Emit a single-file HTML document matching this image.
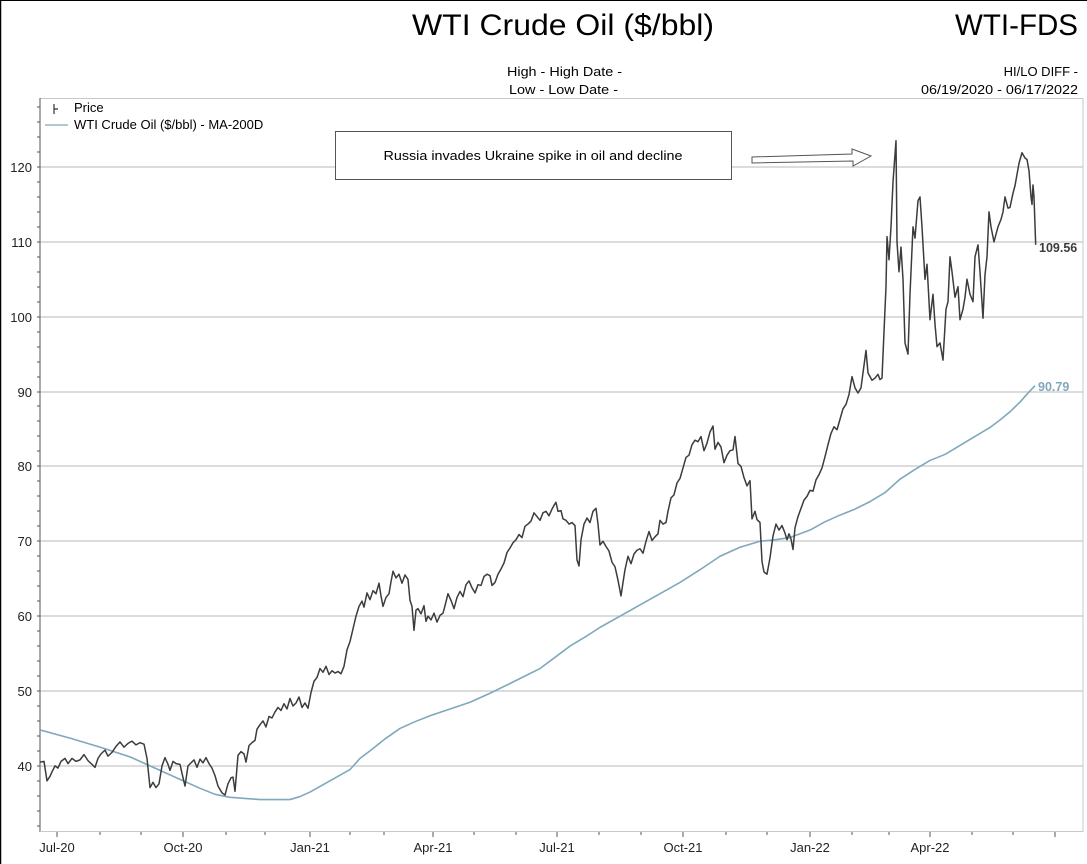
<!DOCTYPE html>
<html><head><meta charset="utf-8"><style>
html,body{margin:0;padding:0;background:#fff;}
svg{display:block;font-family:"Liberation Sans",Arial,sans-serif;}
</style></head><body>
<svg width="1087" height="864" viewBox="0 0 1087 864" xmlns="http://www.w3.org/2000/svg">
<rect width="1087" height="864" fill="#fff"/>
<line x1="0" y1="0.5" x2="1087" y2="0.5" stroke="#000" stroke-width="1"/>
<line x1="0.5" y1="0" x2="0.5" y2="864" stroke="#000" stroke-width="1.5"/>
<text x="563" y="35" font-size="30" text-anchor="middle" textLength="302" lengthAdjust="spacingAndGlyphs">WTI Crude Oil ($/bbl)</text>
<text x="1078" y="35" font-size="30" text-anchor="end" textLength="123" lengthAdjust="spacingAndGlyphs">WTI-FDS</text>
<text x="507" y="76" font-size="13" textLength="115" lengthAdjust="spacingAndGlyphs">High - High Date -</text>
<text x="509" y="94" font-size="13" textLength="109" lengthAdjust="spacingAndGlyphs">Low - Low Date -</text>
<text x="1078" y="76" font-size="13" text-anchor="end">HI/LO DIFF -</text>
<text x="1078" y="94" font-size="13" text-anchor="end" textLength="157" lengthAdjust="spacingAndGlyphs">06/19/2020 - 06/17/2022</text>
<rect x="40" y="98.5" width="1043" height="733" fill="none" stroke="#c8c8c8"/>
<g stroke="#c8c8c8" stroke-width="1.2">
<line x1="40" y1="167" x2="1083" y2="167"/>
<line x1="40" y1="242" x2="1083" y2="242"/>
<line x1="40" y1="317" x2="1083" y2="317"/>
<line x1="40" y1="392" x2="1083" y2="392"/>
<line x1="40" y1="466" x2="1083" y2="466"/>
<line x1="40" y1="541" x2="1083" y2="541"/>
<line x1="40" y1="616" x2="1083" y2="616"/>
<line x1="40" y1="691" x2="1083" y2="691"/>
<line x1="40" y1="766" x2="1083" y2="766"/>
</g>
<line x1="40" y1="98" x2="40" y2="832" stroke="#555" stroke-width="1"/>
<line x1="40" y1="831.5" x2="1083" y2="831.5" stroke="#c8c8c8"/>
<g fill="#222" font-size="13" text-anchor="end">
<text x="32" y="172">120</text><text x="32" y="247">110</text><text x="32" y="322">100</text>
<text x="32" y="397">90</text><text x="32" y="471">80</text><text x="32" y="546">70</text>
<text x="32" y="621">60</text><text x="32" y="696">50</text><text x="32" y="771">40</text>
</g>
<g stroke="#555" stroke-width="1">
<path d="M37 107h3M37 122h3M37 137h3M37 152h3M37 167h3M37 182h3M37 197h3M37 212h3M37 227h3M37 242h3M37 257h3M37 272h3M37 287h3M37 302h3M37 317h3M37 332h3M37 347h3M37 362h3M37 377h3M37 392h3M37 406h3M37 421h3M37 436h3M37 451h3M37 466h3M37 481h3M37 496h3M37 511h3M37 526h3M37 541h3M37 556h3M37 571h3M37 586h3M37 601h3M37 616h3M37 631h3M37 646h3M37 661h3M37 676h3M37 691h3M37 706h3M37 721h3M37 736h3M37 751h3M37 766h3M37 781h3M37 796h3M37 811h3M37 826h3"/>
<path d="M57 832v5M100 832v3M141 832v3M183 832v5M226 832v3M265 832v3M310 832v5M350 832v3M384 832v3M433 832v5M474 832v3M516 832v3M557 832v5M599 832v3M641 832v3M683 832v5M726 832v3M767 832v3M810 832v5M852 832v3M889 832v3M930 832v5M972 832v3M1013 832v3M1055 832v5"/>
</g>
<g fill="#222" font-size="13" text-anchor="middle">
<text x="57" y="852">Jul-20</text><text x="183" y="852">Oct-20</text><text x="310" y="852">Jan-21</text>
<text x="433" y="852">Apr-21</text><text x="557" y="852">Jul-21</text><text x="683" y="852">Oct-21</text>
<text x="810" y="852">Jan-22</text><text x="930" y="852">Apr-22</text>
</g>
<path d="M54 104v10M54 109h4" stroke="#333" stroke-width="1.2" fill="none"/>
<text x="74" y="112" font-size="13">Price</text>
<line x1="45" y1="125" x2="68" y2="125" stroke="#7fa8bd" stroke-width="1.3"/>
<text x="74" y="129" font-size="13">WTI Crude Oil ($/bbl) - MA-200D</text>
<rect x="335.5" y="131.5" width="396" height="48" fill="#fff" stroke="#555"/>
<text x="533" y="160" font-size="13" text-anchor="middle" textLength="299" lengthAdjust="spacingAndGlyphs">Russia invades Ukraine spike in oil and decline</text>
<path d="M752 157 L852 154 L852 149 L871 156 L853 166 L853 161 L752 163 Z" fill="#fff" stroke="#555" stroke-width="1"/>
<g transform="matrix(1,0,0,-7.486,0,1065.3)" fill="none" stroke-linejoin="round">
<polyline vector-effect="non-scaling-stroke" stroke="#7fa8bd" stroke-width="1.6" points="40,44.8 70,43.7 100,42.5 130,41.2 150,40 175,38.5 200,37 215,36.2 230,35.8 260,35.5 290,35.5 300,35.9 310,36.5 330,38 350,39.5 360,41 370,42 385,43.6 400,45 415,45.9 430,46.7 450,47.6 470,48.5 490,49.7 510,51 525,52 540,53 555,54.5 570,56 585,57.2 600,58.5 620,60 640,61.5 660,63 680,64.5 700,66.2 720,68 740,69.2 760,70 775,70.2 790,70.5 800,71 810,71.5 825,72.6 840,73.5 855,74.3 870,75.3 885,76.5 900,78.3 915,79.6 930,80.8 945,81.6 960,82.8 975,84 990,85.2 1000,86.2 1010,87.3 1020,88.6 1028,89.8 1035,90.79"/>
<polyline vector-effect="non-scaling-stroke" stroke="#3c3c3c" stroke-width="1.5" points="40,40.5 44,40.6 47,38 50,38.6 52,39.2 55,40 58,39.7 61,40.6 65,41 68,40.3 72,41 76,40.6 80,40.8 84,41.5 88,40.7 92,40.2 95,39.8 98,41 101,41.6 105,42.1 108,41.3 112,41.8 116,42.6 120,43.2 124,42.5 128,43 132,43.3 136,42.8 140,43.1 144,42.9 147,41 150,37.1 153,37.8 156,37.1 159,37.6 162,40 165,41.1 168,40.2 170,39.4 173,40.6 176,40.3 180,40.2 182,39 185,37.3 188,40 191,40.4 194,40.8 197,39.8 200,40.9 203,40.4 206,41.1 209,40.3 212,39.7 215,38.7 218,37.3 222,36.4 225,36.1 228,37.6 231,38.4 233,38.5 235,36.6 238,41.4 241,41.9 244,41.6 246,40.5 249,42.7 252,43.1 255,43.4 257,44.9 260,45.5 263,46 266,45.2 269,46.6 272,46.4 275,47.2 278,47.8 281,47.4 284,48.3 287,47.6 290,49 293,48 296,48.4 299,49.2 302,47.8 305,48.4 308,47.7 311,49.8 314,51.3 317,51.8 320,53 323,52.5 326,53.3 329,52.2 332,52.7 335,52.4 338,52.6 341,52.3 344,53.3 347,55.5 350,56.6 353,58.3 356,60 359,61.3 362,62 364,61.2 367,63.1 370,62.2 373,63.4 376,63 379,64.4 381,62.7 383,61.3 386,62.5 389,63 391,64.6 393,66 396,65.1 399,65.6 402,64.4 405,65.5 408,64.9 410,62.1 412,61.3 414,58.1 416,60.8 418,61 421,60.3 424,61.4 426,59.3 428,60 431,59.5 434,60.4 437,59.2 440,60.1 443,60.4 445,61.4 448,63 451,62.1 454,61 457,62.5 460,63.3 463,62.6 466,64.2 469,64.7 472,63.8 475,63.1 478,64.2 481,64.1 484,65.3 487,65.6 490,65.4 492,64.1 495,64.5 498,65.6 501,66.3 504,67.1 507,68.5 510,69.1 513,69.8 516,70.2 519,70.9 522,70.5 525,72 528,72.3 531,72.7 534,73.8 537,73.3 540,72.8 543,73.8 546,74 549,73.4 552,74.3 554,74.8 556,75.2 558,74 561,74.1 563,73 566,72.8 569,72.3 572,72.5 575,72.1 577,67.5 579,66.7 581,70.2 584,72.3 587,73.1 590,72.5 593,74 596,74.4 598,72.3 600,69.5 603,70 606,69.3 609,68.7 612,67.2 615,66.6 618,64.8 621,62.7 623,64.5 625,66.2 628,68 631,67 634,68.3 637,68.8 640,69 643,68.4 646,70 649,71.3 652,70.1 655,70.6 658,71 660,72.8 663,72.3 666,72.5 668,74 671,75.8 674,76.2 677,77.8 680,78.4 683,79.8 686,81.2 689,81.5 692,82.9 695,83.5 698,83.3 701,84 704,82.1 707,83.1 710,84.6 713,85.4 715,82.3 718,83.2 721,82.6 724,80.5 727,81.5 730,82.1 733,82.2 735,84 738,80.4 741,80 744,78.5 747,77.4 750,78.1 752,73 755,74 757,72.9 760,72.5 762,67.3 764,65.9 767,65.6 770,67.8 773,70.7 776,72.3 779,71.5 782,72.1 785,71.1 787,70.2 789,71 791,70.3 793,68.9 795,71.8 798,73.3 801,74.4 804,75.5 807,76 810,76.8 813,76.7 816,78.2 819,78.9 822,79.8 825,81.3 828,82.9 831,84.4 834,85.3 837,84.9 840,86.3 843,87.7 846,88.3 849,89.6 852,92 855,90.5 858,89.8 861,90.5 864,93.5 866,95.5 868,92.5 870,92 872,91.5 875,91.8 878,92.3 880,91.6 882,91.8 884,98 886,104 887,110.7 889,107.6 891,112 893,118 896,123.5 897,110 899,106 901,109.3 903,105 905,96.5 908,95 910,103 913,112 915,110.5 918,115.5 920,116 922,112 925,105 927,107 930,99.6 933,103 935,99 937,96 940,96.5 943,94.2 946,101 948,102 950,108 952,106 955,102.6 958,104 960,99.6 963,101 965,102.6 967,105 970,103 973,102 975,108 978,109.6 980,106 983,99.8 985,105.6 987,108 989,114 991,112 994,110 996,111 998,112 1001,113 1003,114 1005,116 1008,114.5 1010,114.6 1013,116.5 1015,117.5 1017,119 1019,120.5 1022,121.9 1025,121.2 1027,121 1029,119.5 1031,116 1032,115 1033,117.6 1034,116 1035.7,109.6"/>
</g>
<text x="1039" y="252" font-size="12.5" font-weight="bold" fill="#3c3c3c">109.56</text>
<text x="1038" y="391" font-size="12.5" font-weight="bold" fill="#7fa8bd">90.79</text>
</svg>
</body></html>
